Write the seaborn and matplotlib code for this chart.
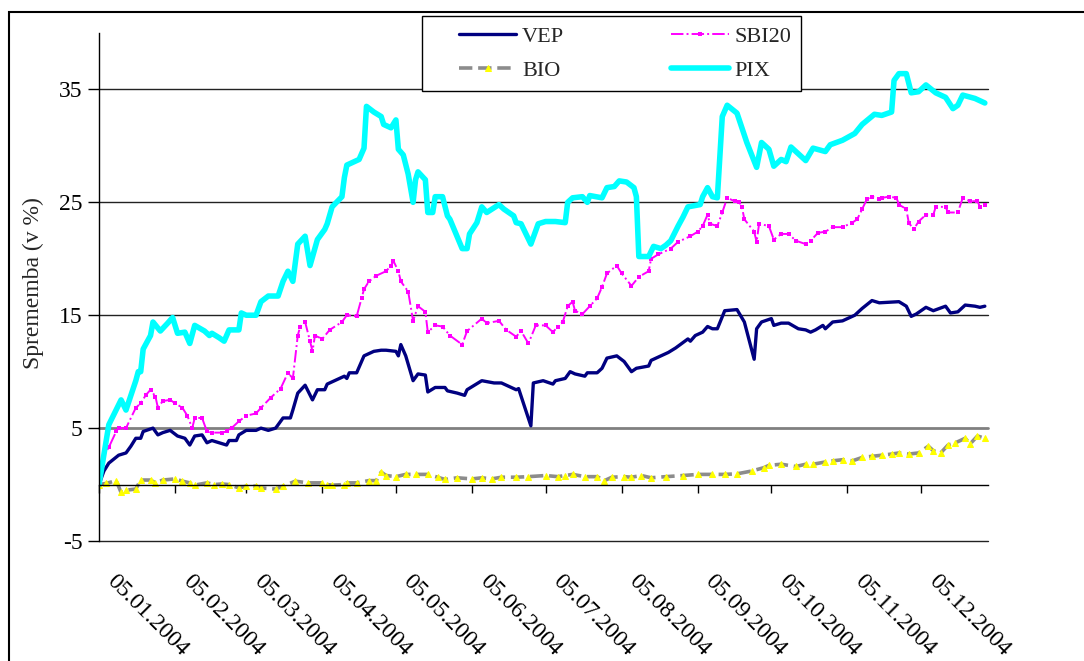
import numpy as np
import pandas as pd
import matplotlib
matplotlib.use("Agg")
import matplotlib.pyplot as plt
import matplotlib.dates as mdates
import matplotlib.transforms as mtransforms
from matplotlib.legend_handler import HandlerLine2D
import seaborn as sns

# Day of year 2004 and change in %
vep_day = [5, 7, 9, 13, 16, 18, 20, 22, 23, 27, 29, 31, 34, 37, 40, 42, 44, 47, 49, 51,
           54, 57, 58, 61, 62, 65, 69, 71, 74, 77, 80, 83, 84, 86, 89, 92, 94, 97, 98, 101,
           105, 106, 107, 110, 113, 117, 120, 122, 126, 127, 128, 130, 133, 135, 138, 139,
           142, 146, 147, 151, 154, 155, 161, 166, 169, 175, 176, 181, 182, 186, 190, 191,
           195, 197, 199, 203, 204, 208, 210, 212, 216, 219, 222, 224, 229, 230, 234, 237,
           240, 245, 246, 248, 251, 253, 255, 257, 260, 265, 268, 272, 273, 275, 279, 280,
           283, 286, 290, 293, 295, 297, 300, 301, 304, 308, 313, 316, 320, 323, 331, 334,
           336, 338, 342, 345, 350, 352, 355, 358, 362, 364, 366]
vep_val = [0, 1.2, 1.9, 2.6, 2.8, 3.4, 4.1, 4.1, 4.7, 5.0, 4.4, 4.6, 4.8, 4.3, 4.1, 3.5, 4.3, 4.4, 3.7, 3.9,
           3.7, 3.5, 3.9, 3.9, 4.4, 4.8, 4.8, 5.0, 4.8, 5.0, 5.9, 5.9, 6.6, 8.1, 8.8, 7.5, 8.4, 8.4, 8.9, 9.2,
           9.6, 9.4, 9.9, 9.9, 11.4, 11.8, 11.9, 11.9, 11.8, 11.4, 12.4, 11.4, 9.2, 9.8, 9.7, 8.2,
           8.6, 8.6, 8.3, 8.1, 7.9, 8.4, 9.2, 9.0, 9.0, 8.4, 8.5, 5.2, 9.0, 9.2, 8.9, 9.2,
           9.4, 10.0, 9.8, 9.6, 9.9, 9.9, 10.3, 11.2, 11.4, 10.9, 10.0, 10.3, 10.5, 11.0, 11.4, 11.7,
           12.1, 12.9, 12.7, 13.2, 13.5, 14.0, 13.8, 13.8, 15.4, 15.5, 14.4, 11.1, 13.8, 14.4, 14.7, 14.1,
           14.3, 14.3, 13.8, 13.7, 13.5, 13.7, 14.1, 13.8, 14.4, 14.5, 15.0, 15.6, 16.3, 16.1, 16.2, 15.8,
           14.9, 15.1, 15.7, 15.4, 15.8, 15.2, 15.3, 15.9, 15.8, 15.7, 15.8]

sbi_day = [5, 7, 9, 12, 13, 16, 20, 22, 24, 26, 28, 29, 31, 34, 36, 39, 41, 43, 44, 47,
           49, 51, 55, 57, 59, 62, 65, 69, 71, 75, 79, 82, 84, 86, 87, 89, 91, 92, 93, 96,
           99, 104, 106, 110, 112, 113, 115, 118, 122, 124, 125, 127, 128, 131, 133, 135, 138, 139,
           142, 145, 148, 153, 155, 161, 163, 168, 171, 175, 177, 180, 183, 187, 190, 192, 194, 196,
           198, 199, 202, 205, 208, 210, 212, 216, 218, 222, 225, 229, 230, 233, 238, 241, 246, 249,
           251, 253, 254, 257, 259, 261, 264, 266, 267, 268, 272, 273, 274, 278, 280, 283, 286, 289,
           293, 295, 298, 301, 304, 308, 312, 314, 316, 318, 320, 323, 324, 327, 330, 331, 334, 335,
           337, 339, 342, 345, 346, 350, 351, 355, 357, 360, 363, 364, 366]
sbi_val = [0, 2.6, 3.3, 4.7, 5.0, 5.0, 6.8, 7.2, 7.9, 8.4, 7.8, 6.8, 7.4, 7.5, 7.2, 6.8, 6.1, 5.0, 5.9, 5.9,
           4.7, 4.6, 4.6, 4.7, 5.0, 5.6, 6.1, 6.3, 6.8, 7.7, 8.5, 9.9, 9.4, 13.2, 14.0, 14.4, 12.7, 11.8, 13.2, 12.9,
           13.7, 14.4, 15.0, 14.9, 16.5, 17.3, 18.0, 18.5, 18.9, 19.4, 19.8, 18.9, 18.0, 17.1, 14.5, 15.8, 15.3, 13.5,
           14.1, 14.0, 13.2, 12.4, 13.6, 14.7, 14.3, 14.5, 13.7, 13.1, 13.6, 12.5, 14.1, 14.1, 13.5, 14.0, 14.4, 15.8,
           16.2, 15.4, 15.1, 15.8, 16.5, 17.5, 18.7, 19.4, 18.7, 17.6, 18.4, 18.9, 20.0, 20.4, 20.9, 21.5, 22.0, 22.4,
           22.9, 23.9, 23.1, 22.9, 24.1, 25.4, 25.1, 25.0, 24.6, 23.5, 22.4, 21.5, 23.1, 22.9, 21.7, 22.2, 22.2, 21.6,
           21.3, 21.6, 22.3, 22.4, 22.8, 22.8, 23.2, 23.5, 24.4, 25.3, 25.5, 25.3, 25.4, 25.5, 25.4, 24.8, 24.4, 23.2,
           22.6, 23.3, 23.9, 23.9, 24.6, 24.6, 24.1, 24.1, 25.4, 25.1, 25.1, 24.6, 24.8]

bio_day = [5, 8, 12, 14, 16, 20, 22, 26, 28, 31, 36, 39, 42, 44, 49, 52, 55, 58, 62, 65,
           69, 71, 77, 80, 85, 90, 96, 98, 100, 105, 106, 110, 115, 118, 120, 122, 126, 130, 134, 139,
           143, 146, 151, 157, 161, 165, 169, 175, 180, 187, 192, 195, 198, 203, 208, 211, 214, 219, 222, 226,
           230, 236, 243, 249, 255, 260, 265, 271, 276, 278, 283, 289, 293, 296, 301, 304, 308, 312, 316, 320,
           324, 328, 331, 335, 339, 343, 345, 348, 351, 354, 358, 360, 363, 366]
bio_val = [0, 0.1, 0.35, -0.7, -0.5, -0.4, 0.4, 0.4, 0.15, 0.4, 0.5, 0.3, 0.15, -0.05, 0.15, 0, 0.05, 0, -0.3, -0.15,
           -0.15, -0.3, -0.4, -0.15, 0.3, 0.15, 0.15, 0, -0.05, 0, 0.15, 0.15, 0.35, 0.35, 1.1, 0.8, 0.7, 0.9, 0.9, 0.9,
           0.65, 0.45, 0.6, 0.5, 0.6, 0.5, 0.65, 0.65, 0.7, 0.8, 0.7, 0.8, 0.9, 0.7, 0.7, 0.35, 0.65, 0.7, 0.65, 0.8,
           0.6, 0.7, 0.8, 0.9, 0.9, 0.9, 0.95, 1.2, 1.5, 1.7, 1.8, 1.6, 1.8, 1.8, 2.0, 2.1, 2.2, 2.1, 2.4, 2.5,
           2.6, 2.7, 2.8, 2.7, 2.8, 3.4, 3.0, 2.8, 3.5, 3.7, 4.1, 3.6, 4.3, 4.1]

pix_day = [5, 9, 14, 16, 20, 21, 22, 23, 26, 27, 30, 33, 35, 37, 40, 42, 44, 48, 50, 51,
           54, 56, 58, 62, 63, 65, 69, 71, 74, 78, 80, 82, 84, 86, 89, 91, 94, 97, 98, 100,
           104, 105, 106, 111, 113, 114, 117, 120, 121, 124, 126, 127, 129, 131, 133, 134, 135, 138, 139, 141,
           142, 145, 147, 148, 153, 155, 156, 159, 161, 163, 168, 170, 174, 175, 177, 181, 184, 187, 191, 195,
           196, 198, 202, 204, 205, 210, 212, 215, 217, 220, 223, 224, 225, 229, 231, 234, 236, 238, 241, 243,
           245, 250, 251, 253, 255, 257, 259, 261, 265, 267, 269, 273, 275, 278, 280, 283, 285, 287, 293, 296,
           301, 303, 308, 313, 316, 321, 324, 328, 329, 331, 334, 336, 339, 342, 346, 350, 353, 355, 357, 362, 366]
pix_val = [0, 5.3, 7.5, 6.6, 9.2, 10.0, 10.0, 12.0, 13.2, 14.4, 13.6, 14.3, 14.8, 13.4, 13.5, 12.5, 14.1, 13.6, 13.2, 13.4,
           13.0, 12.7, 13.7, 13.7, 15.2, 15.0, 15.0, 16.2, 16.7, 16.7, 18.0, 18.9, 18.0, 21.3, 22.0, 19.4, 21.7, 22.6, 23.1, 24.6,
           25.5, 27.2, 28.3, 28.8, 29.8, 33.5, 33.0, 32.6, 31.9, 31.6, 32.3, 29.7, 29.2, 27.5, 25.0, 27.0, 27.7, 27.0, 24.1, 24.1,
           25.5, 25.5, 23.8, 23.5, 20.9, 20.9, 22.2, 23.2, 24.6, 24.1, 24.8, 24.4, 23.8, 23.2, 23.1, 21.3, 23.1, 23.3, 23.3, 23.2,
           25.0, 25.4, 25.5, 25.0, 25.6, 25.4, 26.3, 26.4, 26.9, 26.8, 26.3, 25.5, 20.2, 20.2, 21.1, 20.9, 21.2, 21.6, 22.9, 23.7,
           24.6, 24.8, 25.5, 26.3, 25.5, 25.4, 32.6, 33.6, 32.9, 31.6, 30.3, 28.1, 30.3, 29.7, 28.2, 28.8, 28.6, 29.9, 28.7, 29.8,
           29.5, 30.1, 30.5, 31.1, 31.9, 32.8, 32.7, 33.0, 35.8, 36.4, 36.4, 34.7, 34.8, 35.4, 34.7, 34.3, 33.3, 33.6, 34.5, 34.2, 33.8]

y_ticks = [-5, 5, 15, 25, 35]
tick_dates = pd.date_range("2004-01-05", periods=12, freq=pd.DateOffset(months=1))


def to_dates(days):
    return pd.Timestamp("2004-01-01") + pd.to_timedelta(np.asarray(days) - 1, unit="D")


sns.set_style("white")
plt.rcParams["font.family"] = ["Liberation Serif", "DejaVu Serif"]
plt.rcParams["axes.unicode_minus"] = False

fig = plt.figure(figsize=(10.84, 6.61), dpi=100)
ax = fig.add_axes([99 / 1084, 1 - 541 / 661, 889 / 1084, 508 / 661])

sns.lineplot(x=to_dates(vep_day), y=vep_val, ax=ax, color="#000080", lw=2.4,
             estimator=None, sort=False, label="VEP", legend=False)
sns.lineplot(x=to_dates(sbi_day), y=sbi_val, ax=ax, color="#FF00FF", lw=1.4, ls="-.",
             marker="s", markersize=2.2, markeredgewidth=0,
             estimator=None, sort=False, label="SBI20", legend=False)
sns.lineplot(x=to_dates(bio_day), y=bio_val, ax=ax, color="#8C8C8C", lw=2.6, ls="--",
             marker="^", markersize=4.5, markerfacecolor="#FFFF00", markeredgecolor="#FFFF00",
             estimator=None, sort=False, label="BIO", legend=False)
sns.lineplot(x=to_dates(pix_day), y=pix_val, ax=ax, color="#00FFFF", lw=4,
             estimator=None, sort=False, label="PIX", legend=False)

ax.set_ylim(-5, 40)
ax.set_yticks(y_ticks)
ax.set_xlim(pd.Timestamp("2004-01-05"), pd.Timestamp("2005-01-01 07:00"))
ax.set_xticks(tick_dates)
ax.xaxis.set_major_formatter(mdates.DateFormatter("%d.%m.%Y"))

ax.yaxis.grid(True, color="#222222", lw=1)
ax.get_ygridlines()[1].set_color("#808080")
ax.get_ygridlines()[1].set_linewidth(2)
for gl in ax.get_ygridlines():
    gl.set_clip_on(False)
ax.set_axisbelow(True)

for s in ["top", "right"]:
    ax.spines[s].set_visible(False)
ax.spines["left"].set_color("black")
ax.spines["left"].set_linewidth(1)
ax.spines["bottom"].set_position(("data", 0))
ax.spines["bottom"].set_color("black")
ax.spines["bottom"].set_linewidth(1)

ax.tick_params(axis="y", left=True, direction="out", length=8, width=1,
               labelsize=17, pad=4, colors="black")
ax.tick_params(axis="x", bottom=True, direction="out", length=6, width=1,
               labelsize=17, pad=56, colors="black")
offset = mtransforms.ScaledTranslation(0.18, 0, fig.dpi_scale_trans)
for lab in ax.get_xticklabels():
    lab.set_rotation(-45)
    lab.set_ha("left")
    lab.set_va("top")
    lab.set_rotation_mode("anchor")
    lab.set_transform(lab.get_transform() + offset)

ax.set_xlabel("")
ax.set_ylabel("Sprememba (v %)", fontsize=17)
ax.yaxis.set_label_coords(-0.062, 0.508)

lines = ax.get_lines()
handles = [lines[0], lines[2], lines[1], lines[3]]
labels = ["VEP", "BIO", "SBI20", "PIX"]
leg = ax.legend(handles, labels, ncol=2, loc="upper left",
                bbox_to_anchor=(422 / 1084, 1 - 16 / 661), bbox_transform=fig.transFigure,
                frameon=True, fancybox=False, edgecolor="black", framealpha=1,
                borderaxespad=0, fontsize=16, handlelength=3.8, handletextpad=0.25,
                columnspacing=3.6, borderpad=0.45, labelspacing=0.63,
                handler_map={plt.Line2D: HandlerLine2D(xpad=1.2)})
leg.get_frame().set_linewidth(1)
leg.set_zorder(5)

# outer chart border
fig.add_artist(plt.Rectangle((9 / 1084, -0.5), 2, 0.5 + 1 - 12 / 661,
                             transform=fig.transFigure, fill=False,
                             edgecolor="black", lw=1.5))

fig.savefig("out.png", dpi=100)
